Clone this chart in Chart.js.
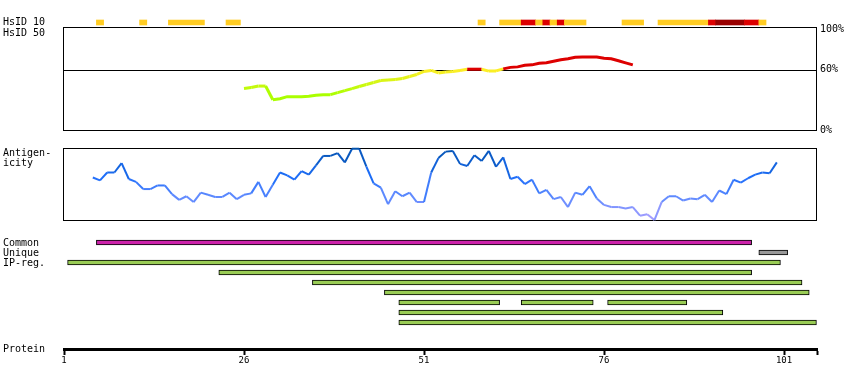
<!DOCTYPE html>
<html>
<head>
<meta charset="utf-8">
<script src="https://cdn.jsdelivr.net/npm/chart.js@4.4.0/dist/chart.umd.min.js"></script>
<style>
  html, body { margin: 0; padding: 0; background: #fff; }
</style>
</head>
<body>
<canvas id="myChart" width="850" height="390"></canvas>
<script>
const ctx = document.getElementById('myChart');

// protein axis
const proteinTicks = [1, 26, 51, 76, 101];
const proteinEnd = 105.58;
const percentTicks = [0, 60, 100];

// HsID 10 strip: residue ranges and level (1 = some, 2 = high, 3 = top)
const hsid10From  = [6, 12, 16, 24, 59, 62, 65, 67, 68, 69, 70, 71, 79, 84, 91, 92, 96, 98];
const hsid10To    = [6, 12, 20, 25, 59, 64, 66, 67, 68, 69, 70, 73, 81, 90, 91, 95, 97, 98];
const hsid10Level = [1, 1, 1, 1, 1, 1, 2, 1, 2, 1, 2, 1, 1, 1, 2, 3, 2, 1];

// HsID 50 identity (%), residues 26..80
const hsid50Start = 26;
const hsid50Values = [41, 42, 43.5, 43.5, 30, 31, 33, 33, 33, 33.5, 34.5, 35, 35, 37, 39, 41, 43, 45, 47, 49,
  49.5, 50, 51, 53, 55, 58, 59, 56.5, 57.5, 58, 59, 60.2, 60.2, 60.2, 58.3, 58.5, 60.5, 62, 62.5, 64,
  64.5, 66, 66.5, 68, 69.5, 70.5, 72, 72.3, 72.3, 72.3, 71, 70.5, 68.5, 66.5, 64.5];

// antigenicity (relative 0..100), residues 5..100
const antigenStart = 5;
const antigenValues = [59, 55, 66, 66, 79, 57, 53, 43, 43, 48, 48, 36, 28, 33, 25, 38, 35, 32, 32, 38,
  29, 35, 37, 53, 32, 49, 66, 62, 56, 68, 63, 76, 89, 89, 93, 80, 99, 99, 74, 51,
  45, 22, 40, 33, 38, 25, 25, 66, 86, 95, 96, 78, 75, 90, 82, 96, 74, 87, 57, 60,
  50, 56, 37, 42, 29, 32, 18, 38, 35, 47, 30, 21, 18, 18, 16, 18, 6, 8, 0, 25,
  33, 33, 27, 30, 29, 35, 25, 41, 36, 56, 52, 58, 63, 66, 65, 80];

// regions (residue from, to)
const commonRegions = [[6, 96]];
const uniqueRegions = [[98, 101]];
const ipRegions = [
  [[2, 100]],
  [[23, 96]],
  [[36, 103]],
  [[46, 104]],
  [[48, 61], [65, 74], [77, 87]],
  [[48, 92]],
  [[48, 105]]
];

const levelColors = ['#FFCC22', '#DD0000', '#990000'];

function mix(a, b, t) {
  return a.map((v, i) => Math.round(v + (b[i] - v) * t));
}

function identColor(p) {
  if (p >= 60) return '#DD0000';
  const t = Math.max(0, Math.min(1, (p - 35) / 25));
  const c = mix([170, 255, 0], [255, 238, 40], t);
  return `rgb(${c[0]},${c[1]},${c[2]})`;
}

function agColor(v) {
  const stops = [[0, [170, 160, 255]], [30, [100, 140, 255]], [60, [30, 110, 250]], [100, [0, 80, 170]]];
  for (let i = 1; i < stops.length; i++) {
    if (v <= stops[i][0]) {
      const t = (v - stops[i - 1][0]) / (stops[i][0] - stops[i - 1][0]);
      const c = mix(stops[i - 1][1], stops[i][1], t);
      return `rgb(${c[0]},${c[1]},${c[2]})`;
    }
  }
  return 'rgb(0,80,170)';
}

// build datasets
const stripData = hsid10From.map((f, i) => ({ x: [f - 0.5, hsid10To[i] + 0.5], y: -22 }));
const stripColors = hsid10Level.map(l => levelColors[l - 1]);

const identData = hsid50Values.map((v, i) => ({ x: hsid50Start + i, y: v }));
const antigenData = antigenValues.map((v, i) => ({ x: antigenStart + i, y: v }));

function regionBars(regions, row) {
  return regions.map(r => ({ x: [r[0] - 0.5, r[1] + 0.5], y: row }));
}

const barBase = {
  type: 'bar', indexAxis: 'y', xAxisID: 'x', yAxisID: 'y',
  barThickness: 5, grouped: false, borderSkipped: false
};

const datasets = [
  Object.assign({}, barBase, { data: stripData, backgroundColor: stripColors, borderWidth: 0 }),
  {
    type: 'line', data: identData, xAxisID: 'x', yAxisID: 'yHs',
    borderWidth: 3, pointRadius: 0, tension: 0, borderColor: '#DD0000',
    segment: { borderColor: c => identColor((c.p0.parsed.y + c.p1.parsed.y) / 2) }
  },
  {
    type: 'line', data: antigenData, xAxisID: 'x', yAxisID: 'yAg',
    borderWidth: 2, pointRadius: 0, tension: 0, borderColor: '#2070F0',
    segment: { borderColor: c => agColor((c.p0.parsed.y + c.p1.parsed.y) / 2) }
  },
  Object.assign({}, barBase, { data: regionBars(commonRegions, 0), backgroundColor: '#CC22AA', borderColor: '#000', borderWidth: 1 }),
  Object.assign({}, barBase, { data: regionBars(uniqueRegions, 1), backgroundColor: '#999999', borderColor: '#000', borderWidth: 1 })
];
ipRegions.forEach((row, i) => {
  datasets.push(Object.assign({}, barBase, { data: regionBars(row, 2 + i), backgroundColor: '#99CC55', borderColor: '#000', borderWidth: 1 }));
});

//frames and left labels
const panelFrames = {
  id: 'panelFrames',
  beforeDatasetsDraw(chart) {
    const { ctx, chartArea, scales } = chart;
    const left = chartArea.left - 0.5;
    const right = chartArea.right - 0.5;
    const line = (y) => Math.round(y) + 0.5;
    ctx.save();
    ctx.strokeStyle = '#000';
    ctx.lineWidth = 1;
    const hTop = Math.floor(scales.yHs.getPixelForValue(100)) - 0.5;
    const hBot = line(scales.yHs.getPixelForValue(0));
    ctx.strokeRect(left, hTop, right - left, hBot - hTop);
    const h60 = Math.ceil(scales.yHs.getPixelForValue(60)) + 0.5;
    ctx.beginPath();
    ctx.moveTo(left, h60);
    ctx.lineTo(right, h60);
    ctx.stroke();
    const aTop = Math.floor(scales.yAg.getPixelForValue(100)) + 0.5;
    const aBot = Math.floor(scales.yAg.getPixelForValue(0)) + 0.5;
    ctx.strokeRect(left, aTop, right - left, aBot - aTop);
    ctx.restore();
  },
  afterDraw(chart) {
    const { ctx, scales } = chart;
    ctx.save();
    ctx.fillStyle = '#000';
    ctx.font = '10px "DejaVu Sans Mono"';
    ctx.textBaseline = 'middle';
    ctx.textAlign = 'left';
    ctx.fillText('HsID 10', 3, scales.y.getPixelForValue(-22));
    ctx.fillText('HsID 50', 3, scales.yHs.getPixelForValue(100) + 4);
    ctx.fillText('Antigen-', 3, scales.yAg.getPixelForValue(100) + 5);
    ctx.fillText('icity', 3, scales.yAg.getPixelForValue(100) + 15);
    ctx.fillText('Common', 3, scales.y.getPixelForValue(0) + 0.5);
    ctx.fillText('Unique', 3, scales.y.getPixelForValue(1) + 0.5);
    ctx.fillText('IP-reg.', 3, scales.y.getPixelForValue(2) + 0.5);
    ctx.fillText('Protein', 3, scales.y.getPixelForValue(10.65));
    ctx.restore();
  }
};

let myChart = new Chart(ctx, {
  type: 'bar',
  data: { datasets: datasets },
  plugins: [panelFrames],
  options: {
    responsive: false,
    animation: false,
    layout: { padding: { left: 64, right: 0, top: 0, bottom: 0 } },
    plugins: { legend: { display: false }, tooltip: { enabled: false } },
    scales: {
      x: {
        type: 'linear', min: 1, max: proteinEnd, offset: false,
        position: { y: 10.65 },
        border: { display: true, width: 3, color: '#000' },
        grid: { offset: false, drawOnChartArea: false, drawTicks: true, tickLength: 4, tickWidth: 2, tickColor: '#000' },
        ticks: {
          font: { family: 'DejaVu Sans Mono', size: 9 }, color: '#000', padding: 2,
          autoSkip: false, maxRotation: 0,
          callback: v => proteinTicks.includes(v) ? String(v) : ''
        },
        afterBuildTicks: s => { s.ticks = proteinTicks.concat([proteinEnd]).map(v => ({ value: v })); },
        afterFit: s => { s.paddingLeft = 0; s.paddingRight = 0; }
      },
      y: { type: 'linear', display: false, offset: false, grid: { offset: false }, reverse: true, min: -24.25, max: 14.75 },
      yAg: { type: 'linear', display: false, offset: false, min: -236.1, max: 305.6 },
      yHs: {
        type: 'linear', position: 'right', offset: false, min: -257.43, max: 128.71,
        grid: { display: false, drawTicks: false, offset: false },
        border: { display: false },
        ticks: {
          font: { family: 'DejaVu Sans Mono', size: 10 }, color: '#000', padding: 3,
          callback: v => v + '%'
        },
        afterBuildTicks: s => { s.ticks = percentTicks.map(v => ({ value: v })); },
        afterFit: s => { s.width = 33; s.paddingTop = 0; s.paddingBottom = 0; }
      }
    }
  }
});
</script>
</body>
</html>
